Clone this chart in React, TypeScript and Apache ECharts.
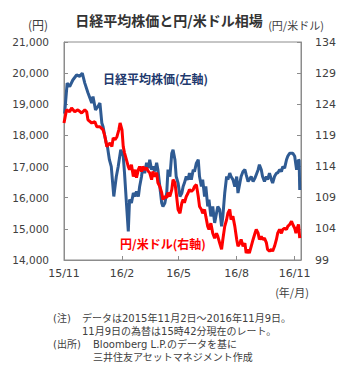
import { useEffect, useRef } from "react";
import * as echarts from "echarts";

const tickDates = ["2015-11-01", "2016-02-01", "2016-05-01", "2016-08-01", "2016-11-01"];
const tickLabels = ["15/11", "16/2", "16/5", "16/8", "16/11"];
const xMin = "2015-11-01";
const xMax = "2016-11-11";

const nikkei: [string, number][] = [
  ["2015-11-02", 18700], ["2015-11-06", 19680], ["2015-11-10", 19570], ["2015-11-15", 19780],
  ["2015-11-21", 19940], ["2015-11-26", 19900], ["2015-11-30", 20000], ["2015-12-02", 19840],
  ["2015-12-04", 19680], ["2015-12-09", 19370], ["2015-12-15", 19040], ["2015-12-17", 19250],
  ["2015-12-21", 18820], ["2015-12-25", 18930], ["2015-12-28", 19040], ["2015-12-31", 18400],
  ["2016-01-02", 18280], ["2016-01-05", 17950], ["2016-01-07", 17760], ["2016-01-09", 17630],
  ["2016-01-12", 17220], ["2016-01-15", 17000], ["2016-01-19", 16040], ["2016-01-23", 16680],
  ["2016-01-26", 17000], ["2016-01-30", 17540], ["2016-02-03", 17330], ["2016-02-05", 16800],
  ["2016-02-08", 15840], ["2016-02-11", 14920], ["2016-02-13", 15940], ["2016-02-16", 15830],
  ["2016-02-19", 16150], ["2016-02-22", 16040], ["2016-02-24", 16200], ["2016-02-27", 16040],
  ["2016-02-29", 16360], ["2016-03-03", 16680], ["2016-03-05", 17000], ["2016-03-08", 16790],
  ["2016-03-11", 17120], ["2016-03-14", 16950], ["2016-03-16", 17220], ["2016-03-19", 16900],
  ["2016-03-21", 17000], ["2016-03-24", 16840], ["2016-03-27", 17120], ["2016-03-29", 16900],
  ["2016-04-01", 16360], ["2016-04-04", 15830], ["2016-04-06", 15720], ["2016-04-09", 15830],
  ["2016-04-12", 16160], ["2016-04-14", 16900], ["2016-04-17", 16680], ["2016-04-20", 17430],
  ["2016-04-22", 17540], ["2016-04-25", 17220], ["2016-04-27", 16680], ["2016-04-30", 16470],
  ["2016-05-03", 16040], ["2016-05-06", 16150], ["2016-05-08", 16360], ["2016-05-10", 16470],
  ["2016-05-13", 16680], ["2016-05-16", 16580], ["2016-05-18", 16790], ["2016-05-21", 16580],
  ["2016-05-24", 16900], ["2016-05-26", 16840], ["2016-05-29", 17110], ["2016-06-01", 17220],
  ["2016-06-03", 16680], ["2016-06-06", 16360], ["2016-06-08", 16580], ["2016-06-11", 16040],
  ["2016-06-13", 16360], ["2016-06-16", 15720], ["2016-06-18", 15940], ["2016-06-21", 15400],
  ["2016-06-24", 15720], ["2016-06-27", 15190], ["2016-06-30", 15510], ["2016-07-02", 15720],
  ["2016-07-05", 15620], ["2016-07-08", 15080], ["2016-07-10", 15400], ["2016-07-13", 16150],
  ["2016-07-16", 16680], ["2016-07-18", 16580], ["2016-07-21", 16790], ["2016-07-23", 16680],
  ["2016-07-26", 16580], ["2016-07-29", 16360], ["2016-08-01", 16680], ["2016-08-03", 16150],
  ["2016-08-06", 16470], ["2016-08-08", 16680], ["2016-08-11", 16840], ["2016-08-14", 16900],
  ["2016-08-16", 16740], ["2016-08-19", 16520], ["2016-08-21", 16580], ["2016-08-24", 16680],
  ["2016-08-27", 16520], ["2016-08-30", 16630], ["2016-09-01", 16740], ["2016-09-04", 16900],
  ["2016-09-06", 17060], ["2016-09-09", 16900], ["2016-09-11", 16680], ["2016-09-14", 16520],
  ["2016-09-17", 16680], ["2016-09-19", 16580], ["2016-09-22", 16790], ["2016-09-25", 16580],
  ["2016-09-27", 16470], ["2016-09-30", 16680], ["2016-10-03", 16790], ["2016-10-05", 16790],
  ["2016-10-08", 16900], ["2016-10-11", 16840], ["2016-10-13", 17000], ["2016-10-16", 16950],
  ["2016-10-19", 17220], ["2016-10-21", 17330], ["2016-10-24", 17430], ["2016-10-29", 17430],
  ["2016-11-01", 17330], ["2016-11-04", 16900], ["2016-11-07", 17220], ["2016-11-08", 17200],
  ["2016-11-09", 16250],
];

const usdjpy: [string, number][] = [
  ["2015-11-01", 121.0], ["2015-11-05", 123.1], ["2015-11-10", 122.8], ["2015-11-13", 123.4],
  ["2015-11-18", 122.8], ["2015-11-23", 123.1], ["2015-11-29", 122.6], ["2015-12-04", 123.1],
  ["2015-12-07", 122.8], ["2015-12-09", 121.5], ["2015-12-15", 121.0], ["2015-12-20", 121.2],
  ["2015-12-23", 120.4], ["2015-12-28", 120.4], ["2016-01-02", 119.9], ["2016-01-05", 118.8],
  ["2016-01-08", 117.2], ["2016-01-13", 117.8], ["2016-01-16", 117.2], ["2016-01-18", 118.6],
  ["2016-01-21", 118.3], ["2016-01-24", 118.8], ["2016-01-27", 119.9], ["2016-01-29", 121.0],
  ["2016-02-01", 119.9], ["2016-02-03", 117.2], ["2016-02-05", 116.2], ["2016-02-08", 115.1],
  ["2016-02-11", 114.0], ["2016-02-13", 113.5], ["2016-02-16", 114.3], ["2016-02-19", 112.4],
  ["2016-02-22", 113.5], ["2016-02-24", 112.2], ["2016-02-27", 113.5], ["2016-02-29", 114.0],
  ["2016-03-03", 113.2], ["2016-03-05", 114.0], ["2016-03-08", 113.5], ["2016-03-11", 113.8],
  ["2016-03-14", 113.2], ["2016-03-16", 113.0], ["2016-03-19", 111.9], ["2016-03-21", 113.2],
  ["2016-03-24", 112.4], ["2016-03-27", 113.0], ["2016-03-29", 111.4], ["2016-04-01", 110.8],
  ["2016-04-04", 109.8], ["2016-04-06", 108.7], ["2016-04-09", 109.2], ["2016-04-12", 109.0],
  ["2016-04-14", 109.8], ["2016-04-17", 109.2], ["2016-04-20", 110.3], ["2016-04-22", 111.9],
  ["2016-04-25", 111.4], ["2016-04-27", 109.8], ["2016-04-30", 107.1], ["2016-05-03", 106.5],
  ["2016-05-06", 108.2], ["2016-05-08", 108.7], ["2016-05-10", 108.2], ["2016-05-13", 109.2],
  ["2016-05-16", 109.8], ["2016-05-18", 110.3], ["2016-05-21", 110.0], ["2016-05-24", 110.3],
  ["2016-05-26", 110.8], ["2016-05-29", 111.1], ["2016-06-01", 109.2], ["2016-06-03", 107.6],
  ["2016-06-06", 107.1], ["2016-06-08", 106.5], ["2016-06-11", 107.1], ["2016-06-13", 106.0],
  ["2016-06-16", 104.4], ["2016-06-18", 103.9], ["2016-06-21", 104.9], ["2016-06-24", 103.3],
  ["2016-06-27", 102.5], ["2016-06-30", 103.3], ["2016-07-02", 102.8], ["2016-07-05", 101.7],
  ["2016-07-08", 100.7], ["2016-07-10", 102.3], ["2016-07-13", 104.4], ["2016-07-16", 105.5],
  ["2016-07-18", 106.5], ["2016-07-21", 107.1], ["2016-07-23", 105.5], ["2016-07-26", 106.0],
  ["2016-07-29", 104.4], ["2016-08-01", 102.3], ["2016-08-03", 101.2], ["2016-08-06", 101.7],
  ["2016-08-08", 102.3], ["2016-08-11", 101.2], ["2016-08-14", 101.7], ["2016-08-16", 100.1],
  ["2016-08-19", 100.7], ["2016-08-21", 100.1], ["2016-08-24", 101.2], ["2016-08-27", 102.3],
  ["2016-08-30", 103.3], ["2016-09-01", 103.9], ["2016-09-04", 103.3], ["2016-09-06", 102.3],
  ["2016-09-09", 102.8], ["2016-09-11", 102.3], ["2016-09-14", 102.5], ["2016-09-17", 101.8],
  ["2016-09-19", 100.7], ["2016-09-22", 100.4], ["2016-09-25", 100.7], ["2016-09-27", 100.4],
  ["2016-09-30", 101.2], ["2016-10-03", 102.3], ["2016-10-05", 103.3], ["2016-10-08", 103.9],
  ["2016-10-11", 103.3], ["2016-10-13", 103.9], ["2016-10-16", 104.1], ["2016-10-19", 103.9],
  ["2016-10-21", 104.4], ["2016-10-24", 104.7], ["2016-10-27", 105.2], ["2016-10-29", 104.7],
  ["2016-11-01", 104.1], ["2016-11-03", 103.3], ["2016-11-05", 104.1], ["2016-11-07", 104.7],
  ["2016-11-09", 102.5],
];

const titleText = "日経平均株価と円/米ドル相場";
const leftUnit = "(円)";
const rightUnit = "(円/米ドル)";
const xUnit = "(年/月)";
const nikkeiLabel = "日経平均株価(左軸)";
const usdjpyLabel = "円/米ドル(右軸)";
const noteHead1 = "(注)";
const noteLine1 = "データは2015年11月2日～2016年11月9日。";
const noteLine2 = "11月9日の為替は15時42分現在のレート。";
const noteHead2 = "(出所)";
const noteLine3 = "Bloomberg L.P.のデータを基に";
const noteLine4 = "三井住友アセットマネジメント作成";

const toTs = (s: string) => {
  const [y, m, d] = s.split("-").map(Number);
  return Date.UTC(y, m - 1, d);
};

const JP = "'Noto Sans CJK JP', 'DejaVu Sans', sans-serif";
const NUM = "'DejaVu Sans', 'Noto Sans CJK JP', sans-serif";
const AXIS = "#8c8c8c";
const TXT = "#404040";

export default function App() {
  const ref = useRef<HTMLDivElement>(null);
  useEffect(() => {
    if (!ref.current) return;
    const chart = echarts.init(ref.current, undefined, { renderer: "svg" });
    const tickTs = tickDates.map(toTs);
    const labelFor = (v: number) => {
      const i = tickTs.findIndex((t) => Math.abs(t - v) < 86400000);
      return i >= 0 ? tickLabels[i] : "";
    };
    const yAxisCommon = {
      type: "value",
      axisLine: { show: true, lineStyle: { color: AXIS, width: 1 } },
      axisTick: { show: true, inside: true, length: 4, lineStyle: { color: AXIS } },
      splitLine: { show: false },
    };
    const text = (t: string, x: number, y: number, opts: any = {}) => ({
      type: "text",
      x,
      y,
      silent: true,
      style: {
        text: t,
        fill: opts.fill || TXT,
        font: opts.font || `11px ${JP}`,
        textAlign: opts.align || "left",
        textVerticalAlign: "middle",
        lineHeight: opts.lineHeight,
      },
    });
    const noteFont = `10px ${NUM}`;
    const nl = 12;
    chart.setOption({
      animation: false,
      backgroundColor: "#ffffff",
      grid: {
        left: 64,
        right: 57,
        top: 42,
        bottom: 120,
        show: true,
        borderColor: AXIS,
        borderWidth: 1,
        backgroundColor: "transparent",
      },
      xAxis: {
        type: "value",
        min: toTs(xMin),
        max: toTs(xMax),
        axisLine: { show: true, lineStyle: { color: AXIS } },
        axisTick: {
          show: true,
          inside: true,
          length: 4,
          customValues: tickTs,
          lineStyle: { color: AXIS },
        },
        axisLabel: {
          customValues: tickTs,
          formatter: (v: number) => labelFor(v),
          color: TXT,
          fontSize: 11,
          fontFamily: NUM,
          margin: 8,
        },
        splitLine: { show: false },
      },
      yAxis: [
        {
          ...yAxisCommon,
          position: "left",
          min: 14000,
          max: 21000,
          interval: 1000,
          axisLabel: {
            color: TXT,
            fontSize: 10.5,
            fontFamily: NUM,
            margin: 15,
            formatter: (v: number) => v.toLocaleString("en-US"),
          },
        },
        {
          ...yAxisCommon,
          position: "right",
          min: 99,
          max: 134,
          interval: 5,
          axisLabel: {
            color: TXT,
            fontSize: 11,
            fontFamily: NUM,
            margin: 14,
          },
        },
      ],
      series: [
        {
          name: nikkeiLabel,
          type: "line",
          yAxisIndex: 0,
          data: nikkei.map(([d, v]) => [toTs(d), v]),
          symbol: "none",
          lineStyle: { color: "#2f5b93", width: 3 },
          itemStyle: { color: "#2f5b93" },
        },
        {
          name: usdjpyLabel,
          type: "line",
          yAxisIndex: 1,
          data: usdjpy.map(([d, v]) => [toTs(d), v]),
          symbol: "none",
          lineStyle: { color: "#ff0000", width: 3 },
          itemStyle: { color: "#ff0000" },
        },
      ],
      graphic: [
        text(titleText, 169, 20, { font: `bold 14px ${JP}`, align: "center", fill: "#333333" }),
        text(leftUnit, 38, 24, { font: `12px ${JP}`, align: "center" }),
        text(rightUnit, 296, 25, { font: `11px ${JP}`, align: "center" }),
        text(nikkeiLabel, 103, 78, { font: `bold 12px ${JP}`, fill: "#1f3a6e" }),
        text(usdjpyLabel, 120, 243, { font: `bold 12px ${JP}`, fill: "#ff0000" }),
        text(xUnit, 292, 292, { font: `11px ${JP}`, align: "center" }),
        text(noteHead1, 53, 318, { font: noteFont, lineHeight: nl }),
        text(noteLine1, 82, 318, { font: noteFont, lineHeight: nl }),
        text(noteLine2, 82, 331, { font: noteFont, lineHeight: nl }),
        text(noteHead2, 53, 344, { font: noteFont, lineHeight: nl }),
        text(noteLine3, 93, 344, { font: noteFont, lineHeight: nl }),
        text(noteLine4, 93, 357, { font: noteFont, lineHeight: nl }),
      ],
    });
    return () => chart.dispose();
  }, []);
  return (
    <div
      ref={ref}
      style={{ position: "fixed", left: 0, top: 0, width: 358, height: 380, background: "#fff" }}
    />
  );
}
